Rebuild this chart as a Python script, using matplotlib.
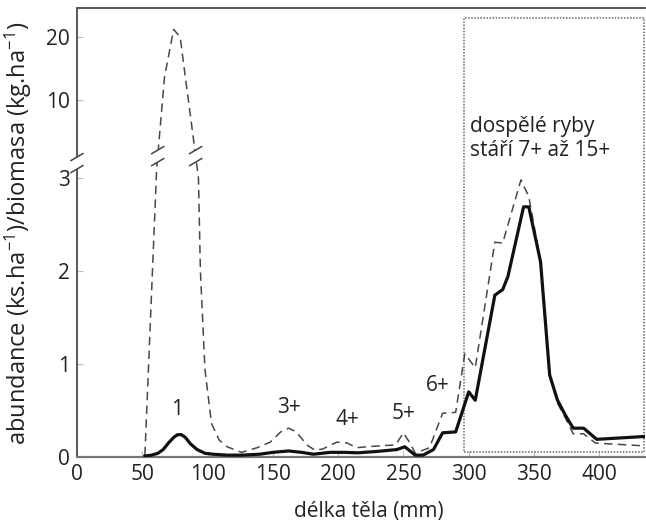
import numpy as np
import matplotlib
matplotlib.use("Agg")
import matplotlib.pyplot as plt
from matplotlib.lines import Line2D
from matplotlib.patches import Polygon, Rectangle

plt.rcParams["font.family"] = ["Open Sans", "DejaVu Sans"]
plt.rcParams["mathtext.fontset"] = "custom"
plt.rcParams["mathtext.rm"] = "Open Sans"
plt.rcParams["mathtext.default"] = "regular"

# =========================
# Data
# =========================
# solid line
solid_x = [52, 57, 62, 66, 70, 74, 77, 80, 83, 87, 92, 98, 104, 115, 126, 140,
           150, 162, 172, 181, 194, 205, 215, 230, 245, 251, 259, 265, 273, 280,
           290, 300, 305, 320, 326, 330, 342, 346, 355, 362, 368, 374, 380, 388,
           398, 434]
solid_y = [0.01, 0.02, 0.04, 0.08, 0.15, 0.21, 0.24, 0.24, 0.21, 0.14, 0.08, 0.04,
           0.03, 0.02, 0.02, 0.03, 0.05, 0.065, 0.05, 0.03, 0.05, 0.05, 0.045,
           0.06, 0.08, 0.11, 0.02, 0.02, 0.08, 0.26, 0.27, 0.70, 0.61, 1.74, 1.80,
           1.94, 2.69, 2.69, 2.10, 0.88, 0.61, 0.45, 0.31, 0.31, 0.19, 0.22]

# dashed line
dash_x = [52, 61, 67, 74, 79, 83, 88, 93, 94.5, 98, 103, 109, 115, 126, 138, 148,
          156, 162, 168, 176, 182, 188, 199, 207, 214, 222, 232, 244, 250, 255,
          259, 270, 280, 290, 297, 305, 320, 326, 340, 346, 355, 362, 368, 374,
          380, 388, 397, 434]
dash_y = [0.02, 3.1, 13.6, 21.2, 20.0, 13.6, 7.1, 3.0, 2.0, 0.94, 0.36, 0.18, 0.11,
          0.05, 0.10, 0.16, 0.27, 0.31, 0.27, 0.13, 0.075, 0.085, 0.16, 0.15, 0.10,
          0.11, 0.12, 0.13, 0.26, 0.15, 0.04, 0.10, 0.47, 0.48, 1.11, 0.96, 2.31,
          2.30, 2.98, 2.80, 2.10, 0.88, 0.58, 0.42, 0.25, 0.25, 0.15, 0.12]

# age group labels
age_labels = ["1", "3+", "4+", "5+", "6+"]
age_x = [77, 162, 207, 250, 276]
age_y = [0.51, 0.53, 0.40, 0.47, 0.77]

adult_range = (296, 434)
adult_text = "dospělé ryby\nstáří 7+ až 15+"

x_ticks = [0, 50, 100, 150, 200, 250, 300, 350, 400]
y_ticks = [0, 1, 2, 3, 10, 20]

# =========================
# Broken y scale
# =========================
Y_BREAK = 3.15
_vk = [-10, 0, Y_BREAK, 10, 20, 200]
_pk = [-10, 0, Y_BREAK, 3.839, 4.516, 4.516 + 180 * 0.0677]


def fwd(v):
    return np.interp(v, _vk, _pk)


def inv(p):
    return np.interp(p, _pk, _vk)


fig = plt.figure(figsize=(6.46, 5.27), dpi=100)
ax = fig.add_axes([77 / 646, 70 / 527, 568 / 646, 449 / 527])
ax.set_yscale("function", functions=(fwd, inv))
ax.set_xlim(0, 435)
ax.set_ylim(0, inv(449 / 93))

ax.plot(dash_x, dash_y, color="#474747", lw=1.1, dashes=(5.5, 3.5), zorder=3)
ax.plot(solid_x, solid_y, color="#111111", lw=2.3, solid_joinstyle="round",
        zorder=4)

ax.add_patch(Rectangle((adult_range[0], 0.05), adult_range[1] - adult_range[0],
                       23.0 - 0.05, fill=False, ls=(0, (1, 1)), lw=1.1,
                       edgecolor="#666666", zorder=2))

for lab, xx, yy in zip(age_labels, age_x, age_y):
    ax.text(xx, yy, lab, ha="center", va="center", fontsize=15, color="#222222")
ax.text(adult_range[0] + 5, 5.9, adult_text, ha="left", va="center",
        fontsize=15, color="#222222", linespacing=1.15)

ax.set_xticks(x_ticks)
ax.set_yticks(y_ticks)
ax.set_yticklabels([str(t) for t in y_ticks])
ax.minorticks_off()
ax.tick_params(direction="in", length=4, color="#bbbbbb", labelsize=15,
               labelcolor="#222222", pad=5)

for s in ["left", "top"]:
    ax.spines[s].set_color("#4a4a4a")
    ax.spines[s].set_linewidth(1.3)
ax.spines["bottom"].set_color("#777777")
ax.spines["bottom"].set_linewidth(1.6)
ax.spines["right"].set_visible(False)

fig.text(369 / 646, 1 - 512 / 527, "délka těla (mm)", ha="center", va="center",
         fontsize=15, color="#222222")
fig.text(18 / 646, 1 - 233 / 527,
         "abundance (ks.ha$^{-1}$)/biomasa (kg.ha$^{-1}$)", rotation=90,
         ha="center", va="center", fontsize=17, color="#222222")


# =========================
# Break marks (display pixels)
# =========================
def break_mark(cx, cy, sep=6.0, w=6.0, h=3.5):
    gap = Polygon([(cx - w, cy - sep - h), (cx + w, cy - sep + h),
                   (cx + w, cy + sep + h), (cx - w, cy + sep - h)],
                  closed=True, facecolor="white", edgecolor="none",
                  transform=None, zorder=10)
    fig.artists.append(gap)
    for d in (-sep, sep):
        fig.lines.append(Line2D([cx - w, cx + w], [cy + d - h, cy + d + h],
                                color="#444444", lw=1.1, transform=None,
                                zorder=11))


fig.canvas.draw()
cx, cy = ax.transData.transform((0, Y_BREAK))
break_mark(cx, cy + 1)

# marks where the dashed curve crosses into the upper part
pts = ax.transData.transform(np.column_stack([dash_x, dash_y]))
ycut = ax.transData.transform((0, 4.0))[1]
ipk = int(np.argmax(dash_y))
up_x = np.interp(ycut, pts[:ipk + 1, 1], pts[:ipk + 1, 0])
dn = pts[ipk:][::-1]
dn_x = np.interp(ycut, dn[:, 1], dn[:, 0])
break_mark(up_x, ycut)
break_mark(dn_x, ycut)

fig.savefig("out.png", dpi=100)
